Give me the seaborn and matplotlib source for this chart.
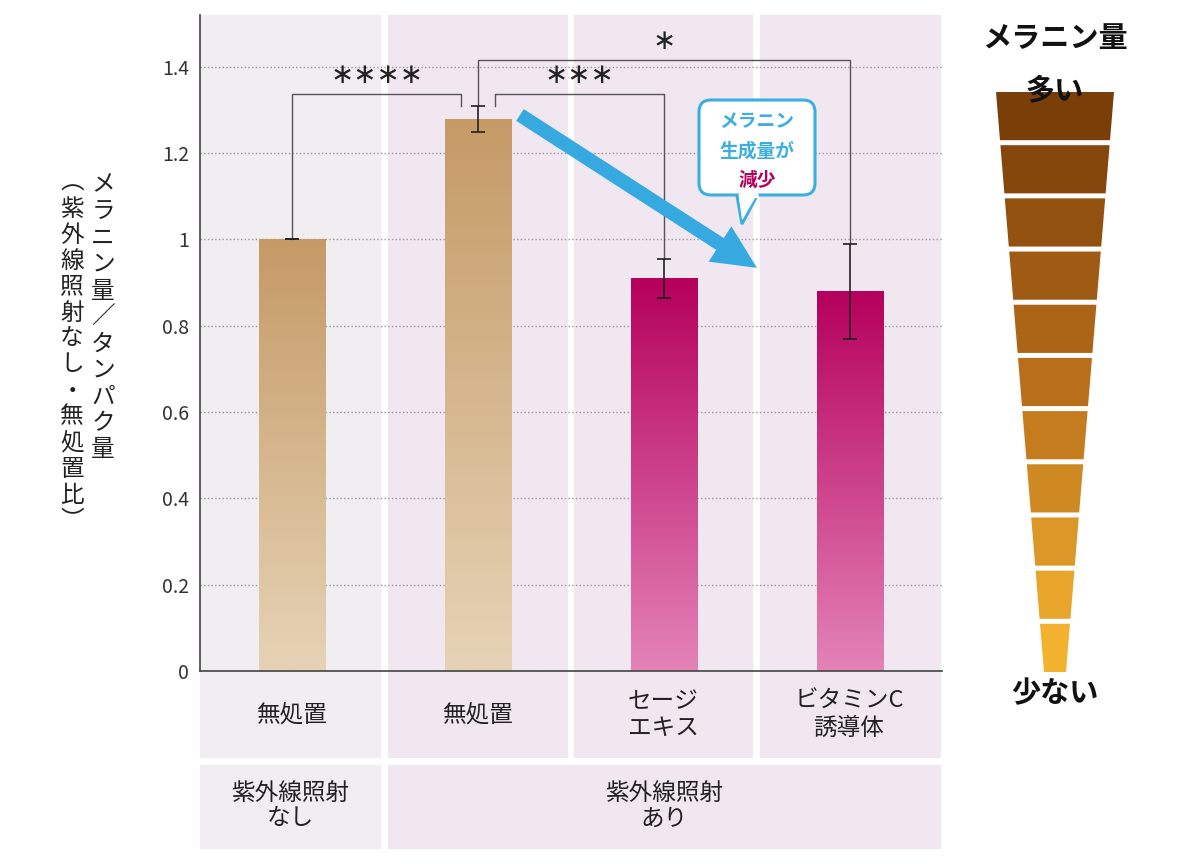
import matplotlib
matplotlib.use("Agg")
import matplotlib.pyplot as plt
import seaborn as sns
import numpy as np
import pandas as pd
from matplotlib.patches import Rectangle, Polygon, FancyBboxPatch, FancyArrow
from matplotlib.colors import LinearSegmentedColormap

FONT = "Noto Sans CJK JP"
plt.rcParams["font.family"] = FONT

categories = ["無処置", "無処置 ", "セージ\nエキス", "ビタミンC\n誘導体"]
values = [1.00, 1.28, 0.91, 0.88]
errors = [0.0, 0.03, 0.045, 0.11]
groups = ["紫外線照射\nなし", "紫外線照射\nあり"]
sig_labels = ["∗∗∗∗", "∗∗∗", "∗"]
yticks = [0, 0.2, 0.4, 0.6, 0.8, 1.0, 1.2, 1.4]
ytick_labels = ["0", "0.2", "0.4", "0.6", "0.8", "1", "1.2", "1.4"]

W, H = 1200, 864
fig = plt.figure(figsize=(12, 8.64), dpi=100)
fig.patch.set_facecolor("white")

def fx(px): return px / W
def fy(py): return 1 - py / H

grey, lav = "#f0eef0", "#f1e7f1"
for x0, x1, c in [(200, 380, grey), (388, 567, lav), (574, 752, lav), (760, 940, lav)]:
    fig.add_artist(Rectangle((fx(x0), fy(757)), fx(x1 - x0), (757 - 15) / H,
                             transform=fig.transFigure, color=c, zorder=-1))
for x0, x1, c in [(200, 380, grey), (388, 940, lav)]:
    fig.add_artist(Rectangle((fx(x0), fy(848)), fx(x1 - x0), (848 - 765) / H,
                             transform=fig.transFigure, color=c, zorder=-1))

ax = fig.add_axes([fx(200), fy(671), fx(742), (671 - 15) / H])
ax.set_zorder(1)
ax.patch.set_visible(False)
df = pd.DataFrame({"cat": categories, "val": values})
sns.barplot(data=df, x="cat", y="val", ax=ax, width=0.355, color="white", errorbar=None)

tan = LinearSegmentedColormap.from_list("tan", ["#e6d3b6", "#c59a66"])
mag = LinearSegmentedColormap.from_list("mag", ["#e483b8", "#b5005c"])
grad = np.linspace(0, 1, 256).reshape(-1, 1)
for i, p in enumerate(ax.patches):
    x, w, h = p.get_x(), p.get_width(), p.get_height()
    cm = tan if i < 2 else mag
    im = ax.imshow(grad, cmap=cm, origin="lower", extent=[x, x + w, 0, h],
                   aspect="auto", zorder=2)
    im.set_clip_path(p)
    p.set_facecolor("none"); p.set_edgecolor("none")
ax.set_xlim(-0.495, 3.495); ax.set_ylim(0, 1.52)
ax.errorbar(range(4), values, yerr=errors, fmt="none", ecolor="#222",
            elinewidth=1.2, capsize=5, capthick=1.2, zorder=4)

ax.set_yticks(yticks)
ax.set_yticklabels(ytick_labels, fontsize=14, color="#333")
ax.set_xticks([]); ax.set_xlabel(""); ax.set_ylabel("")
ax.yaxis.grid(True, linestyle=":", color="#999", linewidth=1)
ax.set_axisbelow(True)
for s in ["top", "right"]:
    ax.spines[s].set_visible(False)
for s in ["left", "bottom"]:
    ax.spines[s].set_color("#444"); ax.spines[s].set_linewidth(1.2)
ax.tick_params(axis="y", length=0, pad=8)

lc = "#555"
def bracket(x0, y0, x1, y1, ytop, lab):
    ax.plot([x0, x0, x1, x1], [y0, ytop, ytop, y1], color=lc, lw=1, zorder=3)
    ax.text((x0 + x1) / 2, ytop + 0.012, lab, ha="center", va="bottom", fontsize=20,
            color="#222", family="DejaVu Sans")
bracket(0, 1.0, 0.91, 1.31, 1.337, sig_labels[0])
bracket(1.09, 1.31, 2.0, 0.955, 1.337, sig_labels[1])
bracket(1.0, 1.31, 3.0, 0.99, 1.416, sig_labels[2])

ov = fig.add_axes([0, 0, 1, 1])
ov.set_zorder(3); ov.patch.set_visible(False)
ov.set_xlim(0, W); ov.set_ylim(H, 0); ov.axis("off")

ov.add_patch(FancyArrow(520, 115, 200, 129, width=14, head_width=42, head_length=44,
                        length_includes_head=False, color="#36a9e1", lw=0))
blue = "#3aaee0"
ov.add_patch(Polygon([(736, 190), (760, 190), (742, 224)], closed=True, fc="white", ec=blue, lw=2.2))
ov.add_patch(FancyBboxPatch((699, 100), 116, 95, boxstyle="round,pad=0,rounding_size=12",
                            fc="white", ec=blue, lw=2.2))
ov.plot([738.5, 757.5], [195, 195], color="white", lw=3.5, solid_capstyle="butt")
ov.plot([741.5, 742.5], [196, 222], color="white", lw=0)
ov.add_patch(Polygon([(738.5, 194), (757.5, 194), (742, 220)], closed=True, fc="white", ec="none"))
ov.text(757, 122, "メラニン", ha="center", va="center", fontsize=13.5, color=blue, weight="bold")
ov.text(757, 151, "生成量が", ha="center", va="center", fontsize=13.5, color=blue, weight="bold")
ov.text(757, 180, "減少", ha="center", va="center", fontsize=13.5, color="#b5005c", weight="bold")

centers = [292, 478, 663, 849]
for c, lab in zip(centers, categories):
    ov.text(c, 715, lab.strip(), ha="center", va="center", fontsize=17, color="#222", linespacing=1.2)
ov.text(290, 806, groups[0], ha="center", va="center", fontsize=17, color="#222", linespacing=1.15)
ov.text(664, 806, groups[1], ha="center", va="center", fontsize=17, color="#222", linespacing=1.15)

col1 = "メラニン量／タンパク量"
col2 = "︵紫外線照射なし・無処置比︶"
for i, ch in enumerate(col1):
    ov.text(103, 185 + i * 26.5, ch, ha="center", va="center", fontsize=17, color="#222")
for i, ch in enumerate(col2):
    ov.text(72, 183 + i * 26.0, ch, ha="center", va="center", fontsize=17, color="#222")

n = 11
top, bot, gap = 92, 672, 5
segh = (bot - top - gap * (n - 1)) / n
def wid(y): return 118 - (y - top) * (96 / (bot - top))
fcm = LinearSegmentedColormap.from_list("f", ["#7a3e08", "#b86e1a", "#f2b230"])
cx = 1055
for i in range(n):
    y0 = top + i * (segh + gap); y1 = y0 + segh
    w0, w1 = wid(y0), wid(y1)
    ov.add_patch(Polygon([(cx - w0 / 2, y0), (cx + w0 / 2, y0), (cx + w1 / 2, y1), (cx - w1 / 2, y1)],
                         closed=True, fc=fcm(i / (n - 1)), ec="none"))
ov.text(1055, 38, "メラニン量", ha="center", va="center", fontsize=21, weight="bold", color="#111")
ov.text(1055, 90, "多い", ha="center", va="center", fontsize=21, weight="bold", color="#111")
ov.text(1055, 693, "少ない", ha="center", va="center", fontsize=21, weight="bold", color="#111")

fig.savefig("out.png", dpi=100)
